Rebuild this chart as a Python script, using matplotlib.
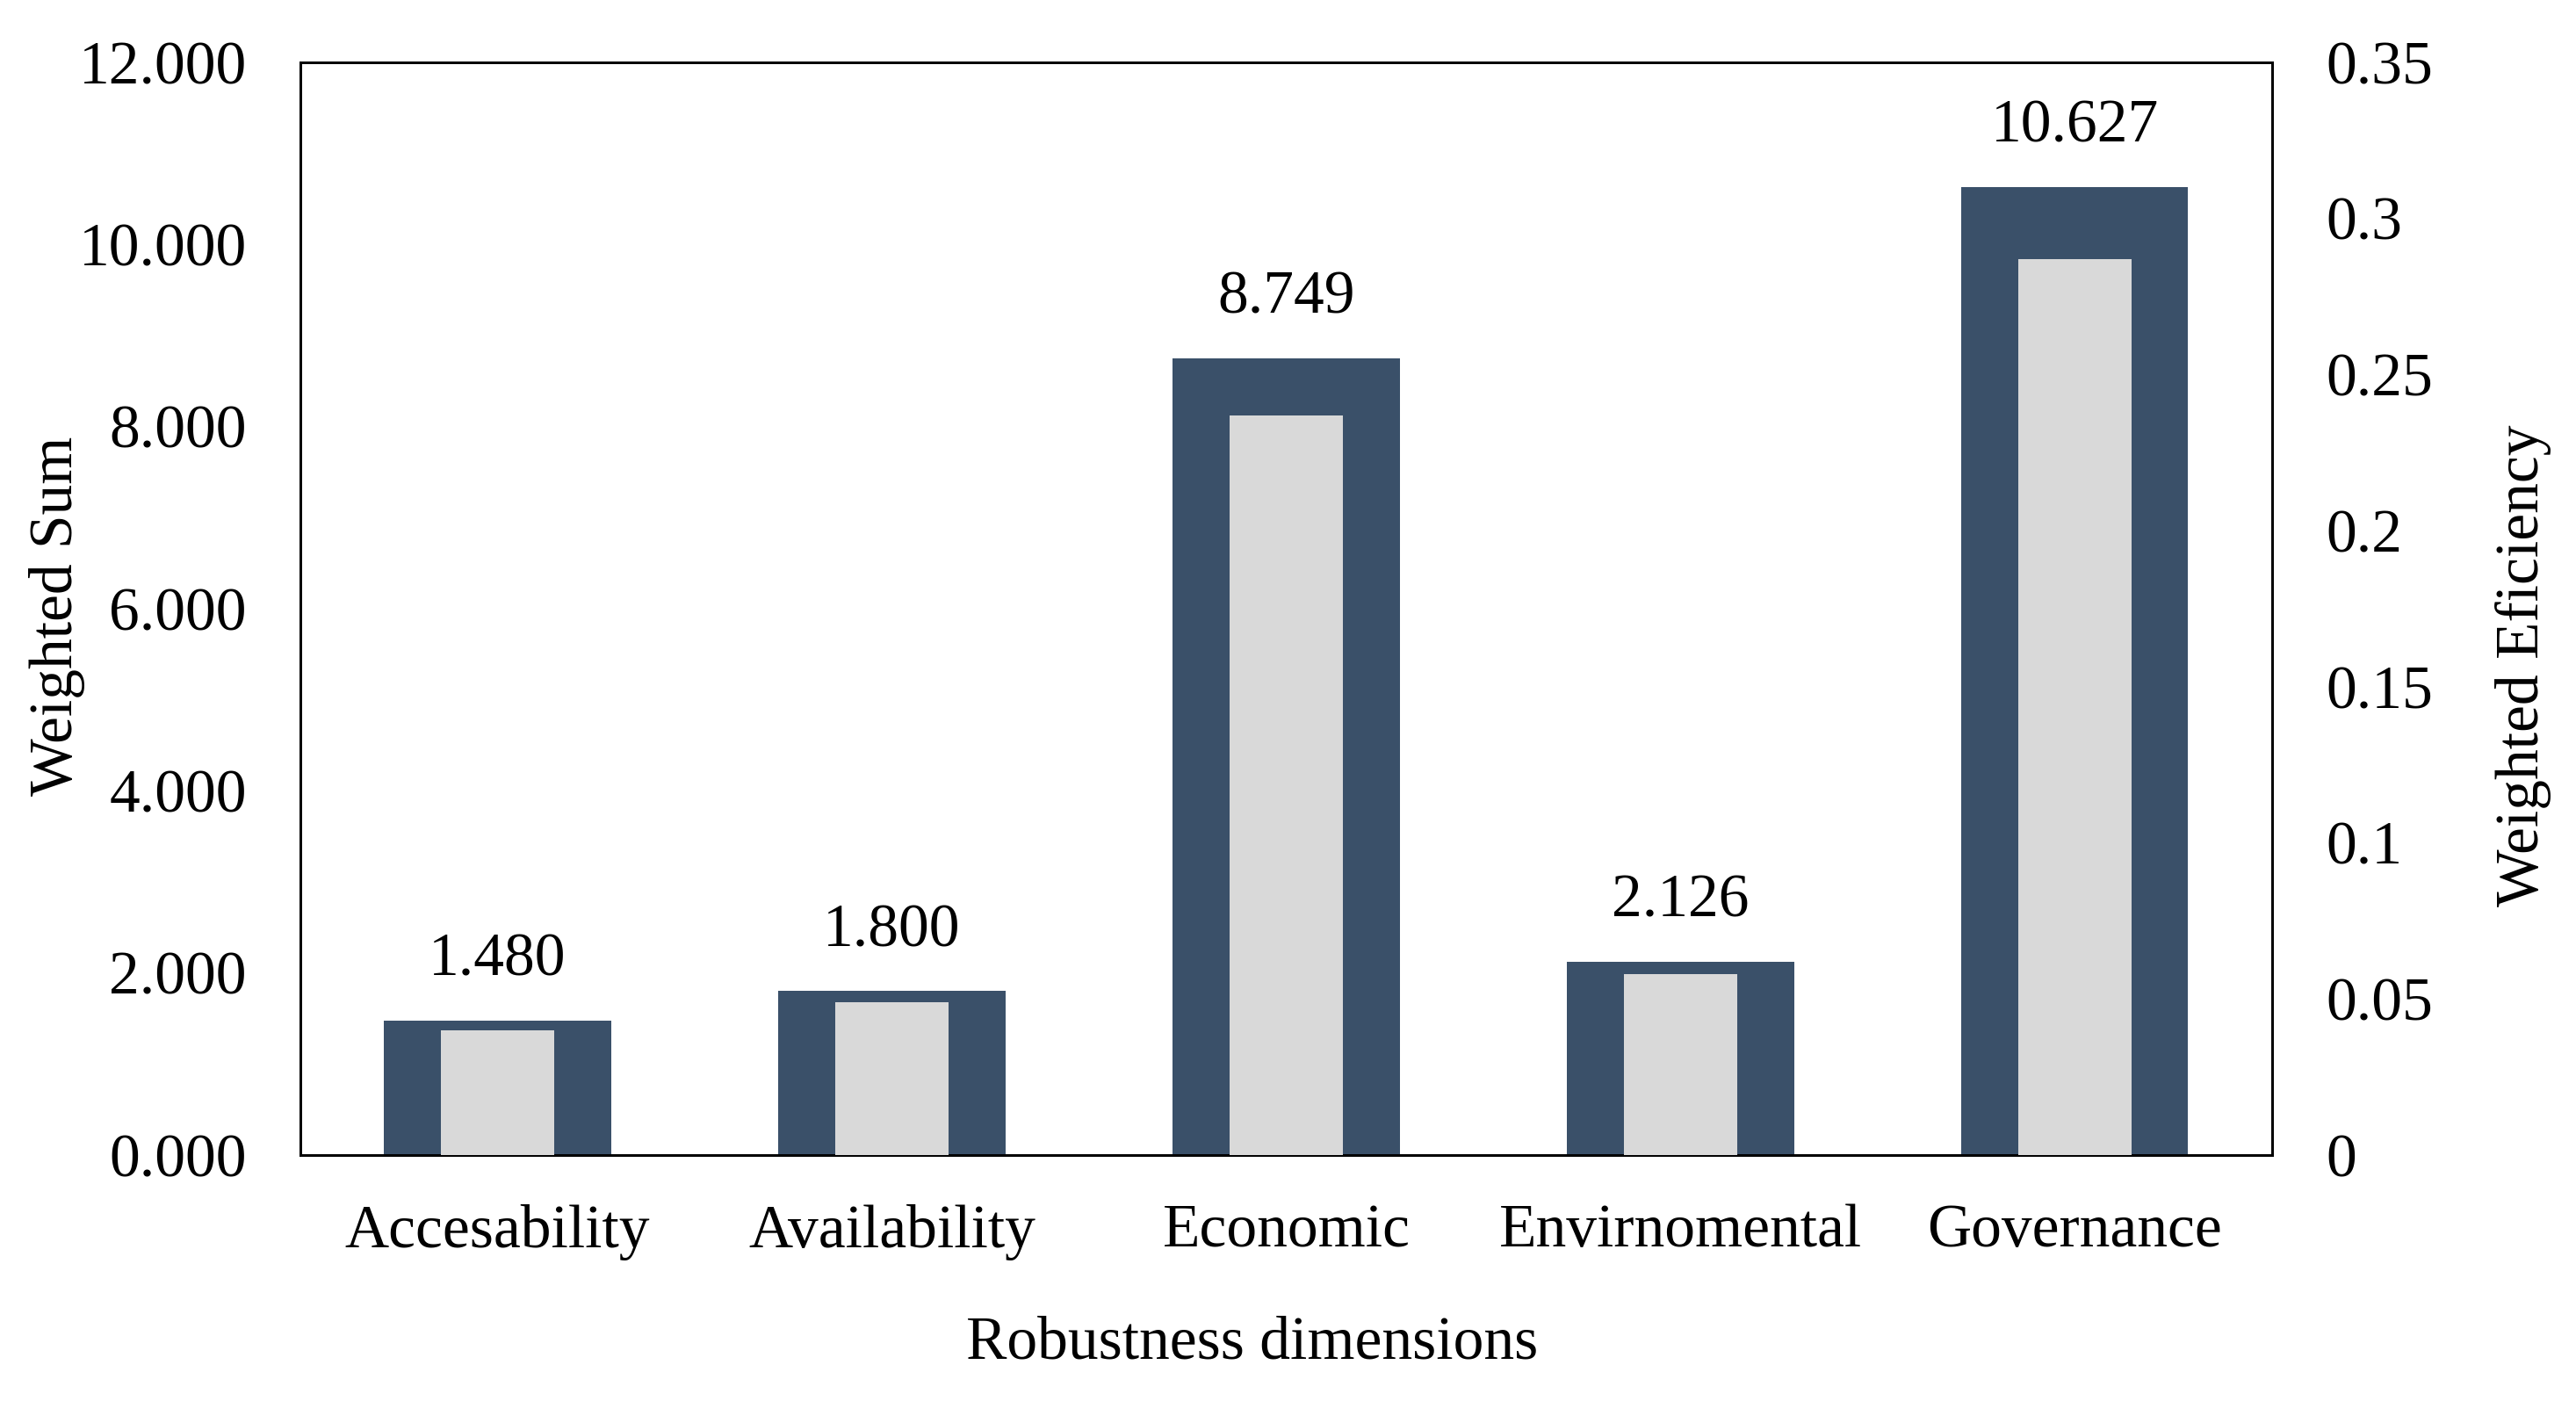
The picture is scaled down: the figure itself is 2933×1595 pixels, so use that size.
import numpy as np
import matplotlib.pyplot as plt

plt.rcParams['font.family'] = ['Liberation Serif', 'DejaVu Serif']

categories = ["Accesability", "Availability", "Economic", "Envirnomental", "Governance"]
weighted_sum = [1.480, 1.800, 8.749, 2.126, 10.627]
weighted_eff = [0.040, 0.049, 0.237, 0.058, 0.287]

dark = "#3a5069"
light = "#d9d9d9"
fs = 50

fig = plt.figure(figsize=(29.33, 15.95), dpi=100)
ax = fig.add_axes([0.1166, 0.1755, 0.7654, 0.78])
ax2 = ax.twinx()

x = np.arange(len(categories))
ax.bar(x, weighted_sum, width=0.575, color=dark, zorder=2)
ax2.bar(x, weighted_eff, width=0.287, color=light, zorder=3)

# value labels above the wide bars
for xi, v in zip(x, weighted_sum):
    ax.annotate(f"{v:.3f}", (xi, v), xytext=(0, 37), textcoords="offset points",
                ha="center", va="baseline", fontsize=fs)

ax.set_xlim(-0.5, len(categories) - 0.5)
ax.set_ylim(0, 12)
ax.set_yticks(np.arange(0, 12.1, 2))
ax.set_yticklabels([f"{t:.3f}" for t in np.arange(0, 12.1, 2)])
ax2.set_ylim(0, 0.35)
ax2.set_yticks(np.arange(0, 0.351, 0.05))
ax2.set_yticklabels([f"{t:g}" for t in np.round(np.arange(0, 0.351, 0.05), 2)])

ax.set_xticks(x)
ax.set_xticklabels(categories)
ax.tick_params(axis="both", length=0, labelsize=fs, pad=44)
ax.tick_params(axis="x", pad=40)
ax2.tick_params(axis="y", length=0, labelsize=fs, pad=44)

for a in (ax, ax2):
    for s in a.spines.values():
        s.set_linewidth(2)
        s.set_color("black")

fig.text(0.0222, 0.5605, "Weighted Sum", rotation=90, fontsize=fs,
         ha="center", va="center")
fig.text(0.9795, 0.525, "Weighted Eficiency", rotation=90, fontsize=fs,
         ha="center", va="center")
fig.text(0.486, 0.041, "Robustness dimensions", fontsize=fs, ha="center", va="center")

fig.savefig("out.png", dpi=100)
